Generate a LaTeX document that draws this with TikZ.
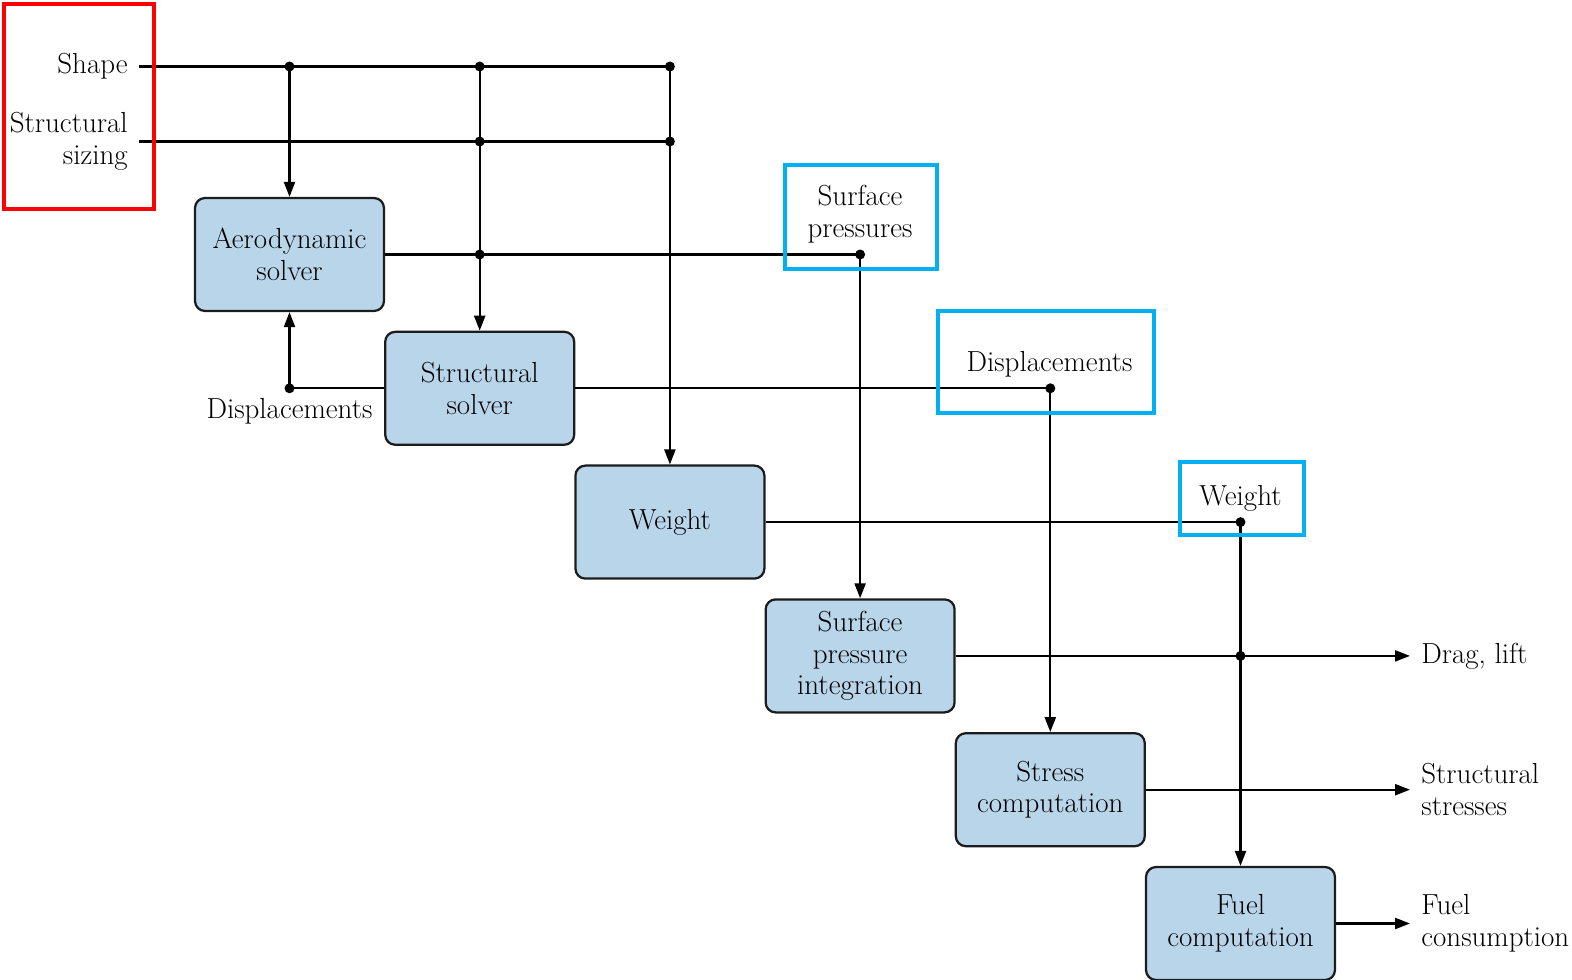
\documentclass[tikz,border=0pt]{standalone}
\usetikzlibrary{arrows.meta}
\definecolor{boxblue}{RGB}{185,213,234}
\definecolor{boxedge}{RGB}{28,28,28}
\definecolor{markblue}{RGB}{0,176,240}
\definecolor{markred}{RGB}{255,0,0}
\begin{document}
\begin{tikzpicture}[x=0.02cm,y=-0.02cm,
  txt/.style={font=\fontsize{16.5}{18}\selectfont, inner sep=0pt, align=center},
  block/.style={txt, draw=boxedge, fill=boxblue, rounded corners=0.2cm,
    minimum width=3.78cm, minimum height=2.26cm, line width=0.045cm},
  wire/.style={line width=0.045cm, draw=black},
  flow/.style={wire, -{Triangle[length=0.3cm,width=0.22cm]}},
  junction/.style={circle, fill=black, inner sep=0pt, minimum size=0.2cm},
  redmark/.style={draw=markred, line width=0.08cm},
  bluemark/.style={draw=markblue, line width=0.08cm}
]
\useasboundingbox (0,0) rectangle (1572,980);

% processing blocks
\node[block] (aero)   at (289.5,254.5)  {Aerodynamic\\solver};
\node[block] (ssolv)  at (479.7,388.3)  {Structural\\solver};
\node[block] (wgt)    at (669.9,522.1)  {Weight};
\node[block] (spi)    at (860.1,655.9)  {Surface\\pressure\\integration};
\node[block] (stress) at (1050.3,789.7) {Stress\\computation};
\node[block] (fuel)   at (1240.5,923.5) {Fuel\\computation};

% design inputs
\node[txt, inner xsep=0.22cm, anchor=east] (shape) at (139,66.5) {Shape};
\node[txt, inner xsep=0.22cm, anchor=east, align=right] (sizing) at (139,141.5) {Structural\\sizing};

% junction points
\node[junction] (ds1) at (289.5,66.5) {};
\node[junction] (ds2) at (479.7,66.5) {};
\node[junction] (ds3) at (669.9,66.5) {};
\node[junction] (dz2) at (479.7,141.5) {};
\node[junction] (dz3) at (669.9,141.5) {};
\node[junction] (da)  at (479.7,254.5) {};
\node[junction] (dsp) at (860.1,254.5) {};
\node[junction] (dd)  at (289.5,388.3) {};
\node[junction] (ddisp) at (1050.3,388.3) {};
\node[junction] (dw)  at (1240.5,522.1) {};
\node[junction] (ddl) at (1240.5,655.9) {};

% data labels
\node[txt] (lsp)   at (860,214)     {Surface\\pressures};
\node[txt] (ldisp) at (1049.5,364)  {Displacements};
\node[txt] (lwgt)  at (1240.5,498)  {Weight};
\node[txt] (ldd)   at (289.5,411)   {Displacements};

% outputs
\node[txt, inner xsep=0.22cm, anchor=west, align=left] (odl) at (1410,655.9) {Drag, lift};
\node[txt, inner xsep=0.22cm, anchor=west, align=left] (ost) at (1410,789.7) {Structural\\stresses};
\node[txt, inner xsep=0.22cm, anchor=west, align=left] (ofc) at (1410,923.5) {Fuel\\consumption};

% input buses
\draw[wire] (shape.east) -- (ds3.center);
\draw[wire] (sizing.east) -- (dz3.center);
\draw[flow] (ds1.center) -- (aero.north);
\draw[flow] (ds2.center) -- (ssolv.north);
\draw[flow] (ds3.center) -- (wgt.north);

% aerodynamic solver output
\draw[wire] (aero.east) -- (dsp.center);
\draw[flow] (dsp.center) -- (spi.north);

% structural solver output
\draw[wire] (ssolv.east) -- (ddisp.center);
\draw[wire] (ssolv.west) -- (dd.center);
\draw[flow] (dd.center) -- (aero.south);
\draw[flow] (ddisp.center) -- (stress.north);

% weight output
\draw[wire] (wgt.east) -- (dw.center);
\draw[flow] (dw.center) -- (fuel.north);

% final outputs
\draw[flow] (spi.east) -- (odl.west);
\draw[flow] (stress.east) -- (ost.west);
\draw[flow] (fuel.east) -- (ofc.west);

% highlight frames
\draw[redmark]  (4,4) rectangle (154,209);
\draw[bluemark] (785,165) rectangle (936.5,269);
\draw[bluemark] (937.5,311) rectangle (1153.5,412.5);
\draw[bluemark] (1179.5,462) rectangle (1304,535);
\end{tikzpicture}
\end{document}
